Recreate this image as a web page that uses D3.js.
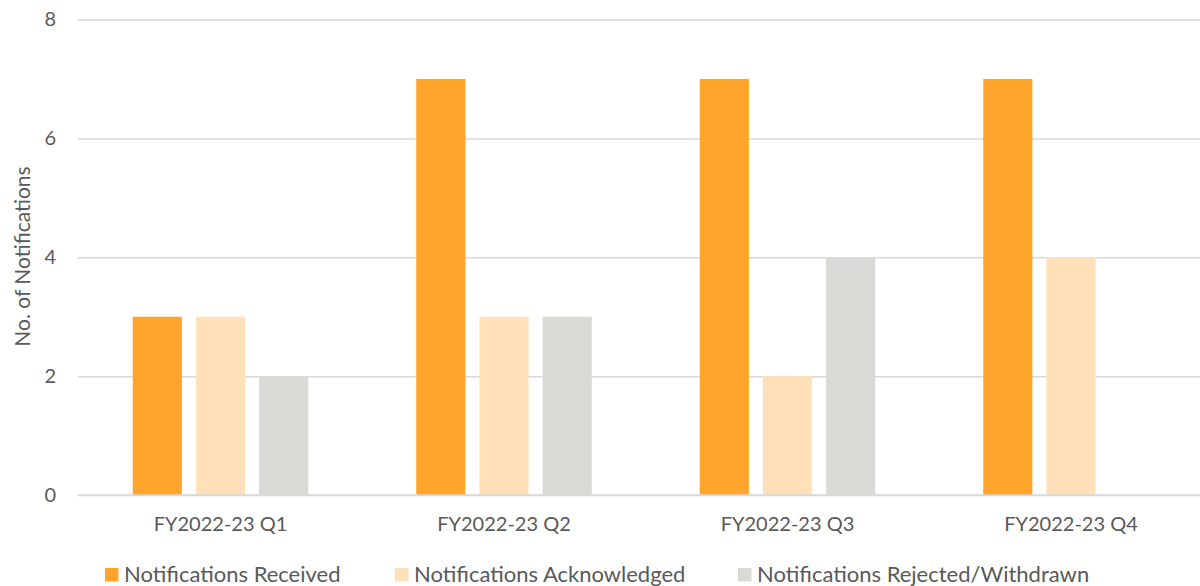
<!DOCTYPE html>
<html>
<head>
<meta charset="utf-8">
<script src="https://cdn.jsdelivr.net/npm/d3@7"></script>
<style>
  html, body { margin: 0; padding: 0; background: #fff; }
  svg { display: block; font-family: Lato, sans-serif; }
</style>
</head>
<body>
<svg id="chart" width="1200" height="586"></svg>
<script>
// Quarterly notification counts
const quarters = ["FY2022-23 Q1", "FY2022-23 Q2", "FY2022-23 Q3", "FY2022-23 Q4"];
const seriesNames = ["Notifications Received", "Notifications Acknowledged", "Notifications Rejected/Withdrawn"];
const received = [3, 7, 7, 7];
const acknowledged = [3, 3, 2, 4];
const rejected = [2, 3, 4, 0];
const yTicks = [0, 2, 4, 6, 8];
const colors = ["#FFA52C", "#FFE0B8", "#D9D9D6"];

const seriesValues = [received, acknowledged, rejected];

const svg = d3.select("#chart");
const textColor = "#595959";
const font = "Lato, sans-serif";

const x0 = d3.scaleBand().domain(quarters).range([78.75, 1212.75]).paddingInner(0).paddingOuter(0);
const x1 = d3.scaleBand().domain(seriesNames).range([54, x0.bandwidth() - 54]).paddingInner(0.222).paddingOuter(0);
const y = d3.scaleLinear().domain([0, 8]).range([495, 19.5]);

// Gridlines and value ticks
const yAxis = d3.axisLeft(y).tickValues(yTicks).tickSize(-(1200 - 78)).tickPadding(22);
const gy = svg.append("g").attr("transform", "translate(78,0)").call(yAxis);
gy.select(".domain").remove();
gy.selectAll(".tick line").attr("stroke", "#D9D9D9").attr("stroke-width", 1.5);
gy.selectAll(".tick text").attr("fill", textColor).style("font-size", "20px").attr("font-family", font);

// Bars
const groups = svg.append("g").selectAll("g")
  .data(quarters)
  .join("g")
  .attr("transform", d => `translate(${x0(d)},0)`);

groups.selectAll("rect")
  .data((q, i) => seriesNames.map((s, k) => ({ s, v: seriesValues[k][i], c: colors[k] })))
  .join("rect")
  .attr("x", d => x1(d.s))
  .attr("width", x1.bandwidth())
  .attr("y", d => y(d.v))
  .attr("height", d => y(0) - y(d.v))
  .attr("fill", d => d.c);

// Category axis
const xAxis = d3.axisBottom(x0).tickSize(0).tickPadding(22);
const gx = svg.append("g").attr("transform", "translate(0,495)").call(xAxis);
gx.select(".domain").attr("stroke", "#D9D9D9").attr("stroke-width", 1.5).attr("d", "M78,0H1200");
gx.selectAll(".tick text").attr("fill", textColor).style("font-size", "20px").attr("font-family", font);

// Y axis title
svg.append("text")
  .attr("transform", "translate(30,256.5) rotate(-90)")
  .attr("text-anchor", "middle")
  .attr("fill", textColor)
  .style("font-size", "21px")
  .text("No. of Notifications");

// Legend
const legendX = [105, 395, 738];
const legend = svg.append("g").selectAll("g")
  .data(seriesNames)
  .join("g")
  .attr("transform", (d, i) => `translate(${legendX[i]},568)`);
legend.append("rect").attr("width", 13.5).attr("height", 13.5).attr("fill", (d, i) => colors[i]);
legend.append("text")
  .attr("x", 19).attr("y", 14)
  .attr("fill", textColor)
  .style("font-size", "22px")
  .text(d => d);
</script>
</body>
</html>
